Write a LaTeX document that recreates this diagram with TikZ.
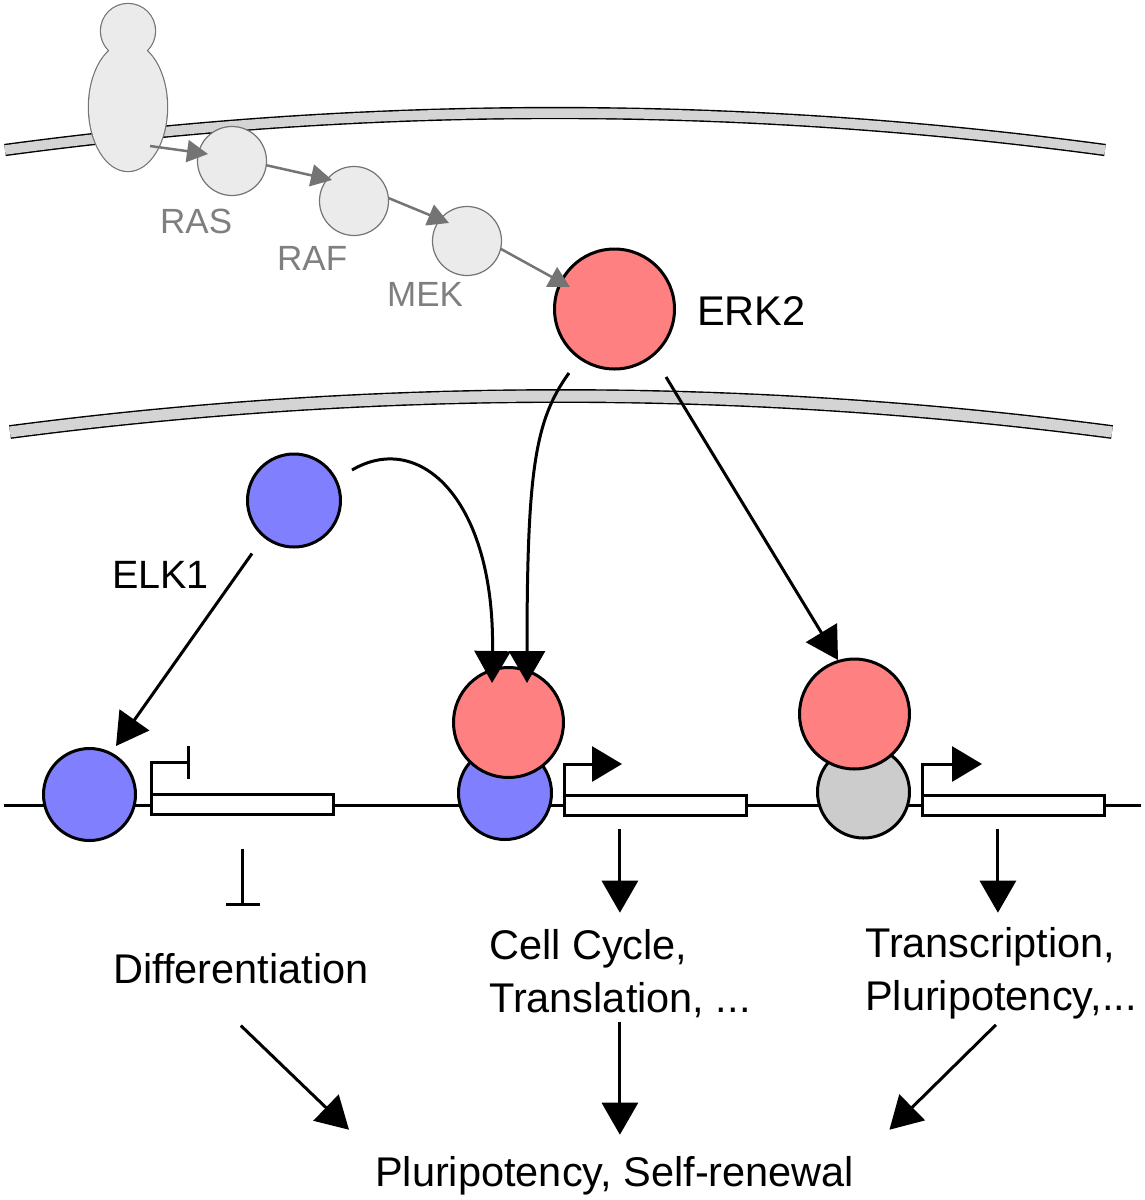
\documentclass[tikz,border=0pt]{standalone}
\usepackage{fontspec}
\setmainfont{Liberation Sans}
\usetikzlibrary{arrows.meta,calc}
\definecolor{erkred}{HTML}{FF8080}
\definecolor{elkblue}{HTML}{8080FF}
\definecolor{tfgray}{HTML}{CCCCCC}
\definecolor{sigfill}{HTML}{EBEBEB}
\definecolor{sigline}{HTML}{747474}
\definecolor{memfill}{HTML}{D4D4D4}
\definecolor{labgray}{HTML}{7F7F7F}
\begin{document}
\begin{tikzpicture}[x=1pt,y=-1pt,
  prot/.style={circle, draw=black, line width=3pt, inner sep=0pt, outer sep=0pt},
  sig/.style={circle, draw=sigline, fill=sigfill, line width=1.2pt, inner sep=0pt, outer sep=0pt, minimum size=69pt},
  genebox/.style={rectangle, draw=black, fill=white, line width=3pt, inner sep=0pt, outer sep=0pt, minimum width=182pt, minimum height=20pt},
  arr/.style={line width=3pt, -{Triangle[length=32pt,width=36pt]}},
  garr/.style={draw=sigline, line width=2.5pt, -{Triangle[length=21pt,width=22pt]}},
  promo/.style={line width=3pt, -{Triangle[length=30pt,width=35pt]}},
  inh/.style={line width=3pt, -{Bar[width=34pt]}},
  lab/.style={font=\fontsize{41.5}{53}\selectfont, inner sep=0pt, anchor=base west},
  glab/.style={font=\fontsize{35}{42}\selectfont, text=labgray, inner sep=0pt, anchor=base west},
  membrane/.style={draw=black, line width=1.4pt, double=memfill, double distance=#1},
]
\fill[white] (0,0) rectangle (1144,1200);
\useasboundingbox (0,0) rectangle (1144,1200);

% membranes
\draw[membrane=9.5pt] (5,150) .. controls (371.7,100.7) and (738.3,100.7) .. (1105,150);
\draw[membrane=11pt] (10,432) .. controls (377.3,384) and (744.7,384) .. (1112,432);

% receptor
\draw[sigline, line width=2.4pt] (128,31) circle (27pt) (128,107) ellipse (39pt and 64pt);
\fill[sigfill] (128,31) circle (27pt) (128,107) ellipse (39pt and 64pt);
\coordinate (rcp) at (150,146);

% signalling cascade
\node[sig] (ras) at (232,161) {};
\node[sig] (raf) at (354,201) {};
\node[sig] (mek) at (467,241) {};
\node[prot, fill=erkred, minimum size=120pt] (erk) at (614.5,309) {};

\node[glab] (raslab) at (160,233) {RAS};
\node[glab] (raflab) at (277,270) {RAF};
\node[glab] (meklab) at (387,306) {MEK};
\node[lab] (erklab) at (697,325) {ERK2};

\draw[garr] (rcp) -- ($(ras.center)+(-24,-7)$);
\draw[garr] (ras.-7) -- ($(raf.center)+(-22,-21)$);
\draw[garr] (raf.5) -- ($(mek.center)+(-18,-18)$);
\draw[garr] (mek.-13) -- ($(erk.center)+(-44.5,-22)$);

% free ELK1
\node[prot, fill=elkblue, minimum size=93pt] (elkfree) at (294,500.5) {};
\node[lab, font=\fontsize{39.5}{48}\selectfont] (elklab) at (112,588) {ELK1};

% DNA
\draw[line width=3pt] (4,805) -- (1141,805);

% gene 1
\node[prot, fill=elkblue, minimum size=92pt] (elkL) at (89.5,794.5) {};
\node[genebox] (gene1) at (242.5,804.5) {};
\draw[line width=3pt, -{Bar[width=33pt]}] (gene1.north west) -- ++(0,-32) -- ++(38,0);

% gene 2
\node[prot, fill=elkblue, minimum size=93pt] (blue2) at (505,793) {};
\node[prot, fill=erkred, minimum size=110pt] (red2) at (508.5,722.5) {};
\node[genebox] (gene2) at (655,805) {};
\draw[promo] (gene2.north west) -- ++(0,-31) -- ++(58,0);

% gene 3
\node[prot, fill=tfgray, minimum size=92pt] (gray3) at (863.5,792) {};
\node[prot, fill=erkred, minimum size=110pt] (red3) at (854.5,714) {};
\node[genebox] (gene3) at (1013,805) {};
\draw[promo] (gene3.north west) -- ++(0,-31) -- ++(60,0);

% arrows to the gene-bound factors
\draw[arr] ($(elkfree.center)+(-42,53)$) -- ($(elkL.center)+(26.5,-48.5)$);
\draw[arr] ($(elkfree.center)+(58,-30.5)$) .. controls (420,430) and (495,500) .. ($(red2.center)+(-16.5,-39.5)$);
\draw[arr] ($(erk.center)+(-45.5,64)$) .. controls (535,420) and (527,470) .. ($(red2.center)+(18.5,-39.5)$);
\draw[arr] ($(erk.center)+(51.5,68)$) -- ($(red3.center)+(-16.5,-54)$);

% outcome texts
\node[lab] (diff) at (113,983) {Differentiation};
\node[lab] (cc) at (489,959) {\vtop{\baselineskip=53pt\hbox{Cell Cycle,}\hbox{Translation, ...}}};
\node[lab] (tp) at (865,957) {\vtop{\baselineskip=53pt\hbox{Transcription,}\hbox{Pluripotency,...}}};
\node[lab] (ps) at (375,1186) {Pluripotency, Self-renewal};

% gene outputs
\draw[inh] ($(gene1.south)+(0,34)$) -- ($(gene1.south)+(0,91.5)$);
\draw[arr] ($(cc.north |- gene2.south)+(0,14)$) -- ($(cc.north)+(0,-16)$);
\draw[arr] ($(tp.north |- gene3.south)+(-3,14)$) -- ($(tp.north)+(-3,-14)$);

% to pluripotency
\draw[arr] ($(diff.south)+(0,42)$) -- ($(ps.north west)+(-26,-26)$);
\draw[arr] ($(cc.south)+(0,4)$) -- ($(cc.south |- ps.north)+(0,-21)$);
\draw[arr] ($(tp.south)+(-5,6)$) -- ($(ps.north east)+(35,-26)$);
\end{tikzpicture}
\end{document}
